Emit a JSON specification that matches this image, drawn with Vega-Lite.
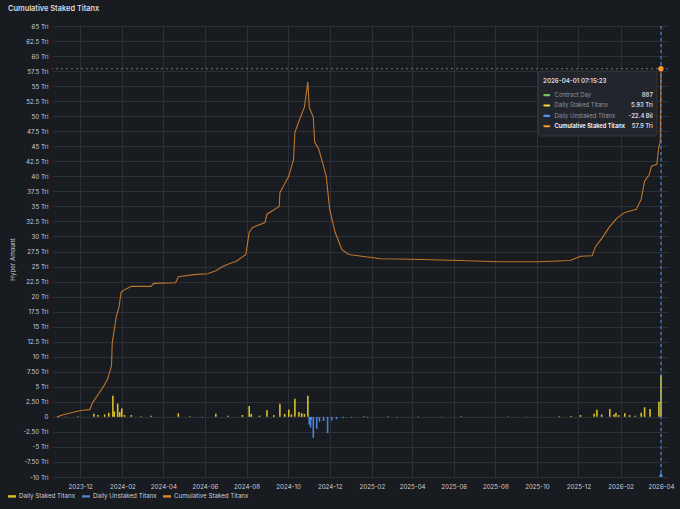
{
  "$schema": "https://vega.github.io/schema/vega-lite/v6.json",
  "description": "Cumulative Staked Titanx, Grafana-style dark time series.",
  "autosize": {"type": "none"},
  "padding": {"left": 52, "top": 26, "right": 12, "bottom": 32},
  "width": 616,
  "height": 451,
  "background": "#181b1f",
  "title": {
    "text": "Cumulative Staked Titanx",
    "anchor": "start",
    "frame": "group",
    "dx": -44,
    "offset": 11,
    "fontSize": 7.4,
    "fontWeight": 600,
    "color": "#d8d9e0"
  },
  "datasets": {
    "cum": [
      {"date": "2023-10-28", "series": "Cumulative Staked Titanx", "value": 0.0},
      {"date": "2023-11-05", "series": "Cumulative Staked Titanx", "value": 0.3},
      {"date": "2023-11-15", "series": "Cumulative Staked Titanx", "value": 0.6},
      {"date": "2023-11-25", "series": "Cumulative Staked Titanx", "value": 0.9},
      {"date": "2023-12-05", "series": "Cumulative Staked Titanx", "value": 1.1},
      {"date": "2023-12-15", "series": "Cumulative Staked Titanx", "value": 1.2},
      {"date": "2023-12-19", "series": "Cumulative Staked Titanx", "value": 2.3},
      {"date": "2023-12-23", "series": "Cumulative Staked Titanx", "value": 3.0},
      {"date": "2024-01-04", "series": "Cumulative Staked Titanx", "value": 5.0},
      {"date": "2024-01-10", "series": "Cumulative Staked Titanx", "value": 6.2},
      {"date": "2024-01-16", "series": "Cumulative Staked Titanx", "value": 8.5},
      {"date": "2024-01-17", "series": "Cumulative Staked Titanx", "value": 12.3},
      {"date": "2024-01-23", "series": "Cumulative Staked Titanx", "value": 16.7},
      {"date": "2024-01-27", "series": "Cumulative Staked Titanx", "value": 18.3},
      {"date": "2024-01-30", "series": "Cumulative Staked Titanx", "value": 20.7},
      {"date": "2024-02-05", "series": "Cumulative Staked Titanx", "value": 21.2},
      {"date": "2024-02-14", "series": "Cumulative Staked Titanx", "value": 21.7},
      {"date": "2024-03-14", "series": "Cumulative Staked Titanx", "value": 21.7},
      {"date": "2024-03-18", "series": "Cumulative Staked Titanx", "value": 22.2},
      {"date": "2024-04-19", "series": "Cumulative Staked Titanx", "value": 22.3},
      {"date": "2024-04-23", "series": "Cumulative Staked Titanx", "value": 23.3},
      {"date": "2024-05-19", "series": "Cumulative Staked Titanx", "value": 23.7},
      {"date": "2024-06-05", "series": "Cumulative Staked Titanx", "value": 23.8},
      {"date": "2024-06-17", "series": "Cumulative Staked Titanx", "value": 24.3},
      {"date": "2024-06-27", "series": "Cumulative Staked Titanx", "value": 25.0},
      {"date": "2024-07-12", "series": "Cumulative Staked Titanx", "value": 25.7},
      {"date": "2024-07-16", "series": "Cumulative Staked Titanx", "value": 25.8},
      {"date": "2024-07-31", "series": "Cumulative Staked Titanx", "value": 27.0},
      {"date": "2024-08-05", "series": "Cumulative Staked Titanx", "value": 30.7},
      {"date": "2024-08-10", "series": "Cumulative Staked Titanx", "value": 31.5},
      {"date": "2024-08-28", "series": "Cumulative Staked Titanx", "value": 32.3},
      {"date": "2024-08-31", "series": "Cumulative Staked Titanx", "value": 33.7},
      {"date": "2024-09-18", "series": "Cumulative Staked Titanx", "value": 35.0},
      {"date": "2024-09-19", "series": "Cumulative Staked Titanx", "value": 37.3},
      {"date": "2024-10-02", "series": "Cumulative Staked Titanx", "value": 40.0},
      {"date": "2024-10-09", "series": "Cumulative Staked Titanx", "value": 42.8},
      {"date": "2024-10-11", "series": "Cumulative Staked Titanx", "value": 47.3},
      {"date": "2024-10-18", "series": "Cumulative Staked Titanx", "value": 49.5},
      {"date": "2024-10-25", "series": "Cumulative Staked Titanx", "value": 51.5},
      {"date": "2024-10-30", "series": "Cumulative Staked Titanx", "value": 55.7},
      {"date": "2024-11-01", "series": "Cumulative Staked Titanx", "value": 51.5},
      {"date": "2024-11-07", "series": "Cumulative Staked Titanx", "value": 49.8},
      {"date": "2024-11-09", "series": "Cumulative Staked Titanx", "value": 45.7},
      {"date": "2024-11-15", "series": "Cumulative Staked Titanx", "value": 44.5},
      {"date": "2024-11-22", "series": "Cumulative Staked Titanx", "value": 41.7},
      {"date": "2024-11-26", "series": "Cumulative Staked Titanx", "value": 40.0},
      {"date": "2024-12-01", "series": "Cumulative Staked Titanx", "value": 34.5},
      {"date": "2024-12-09", "series": "Cumulative Staked Titanx", "value": 30.7},
      {"date": "2024-12-19", "series": "Cumulative Staked Titanx", "value": 27.8},
      {"date": "2024-12-29", "series": "Cumulative Staked Titanx", "value": 27.0},
      {"date": "2025-01-17", "series": "Cumulative Staked Titanx", "value": 26.7},
      {"date": "2025-02-14", "series": "Cumulative Staked Titanx", "value": 26.3},
      {"date": "2025-04-01", "series": "Cumulative Staked Titanx", "value": 26.2},
      {"date": "2025-06-09", "series": "Cumulative Staked Titanx", "value": 26.0},
      {"date": "2025-08-06", "series": "Cumulative Staked Titanx", "value": 25.8},
      {"date": "2025-10-03", "series": "Cumulative Staked Titanx", "value": 25.8},
      {"date": "2025-11-19", "series": "Cumulative Staked Titanx", "value": 26.0},
      {"date": "2025-12-04", "series": "Cumulative Staked Titanx", "value": 26.7},
      {"date": "2025-12-21", "series": "Cumulative Staked Titanx", "value": 26.8},
      {"date": "2025-12-26", "series": "Cumulative Staked Titanx", "value": 28.3},
      {"date": "2026-01-05", "series": "Cumulative Staked Titanx", "value": 29.8},
      {"date": "2026-01-15", "series": "Cumulative Staked Titanx", "value": 31.5},
      {"date": "2026-01-26", "series": "Cumulative Staked Titanx", "value": 33.0},
      {"date": "2026-02-07", "series": "Cumulative Staked Titanx", "value": 34.0},
      {"date": "2026-02-24", "series": "Cumulative Staked Titanx", "value": 34.5},
      {"date": "2026-03-03", "series": "Cumulative Staked Titanx", "value": 36.2},
      {"date": "2026-03-08", "series": "Cumulative Staked Titanx", "value": 39.2},
      {"date": "2026-03-15", "series": "Cumulative Staked Titanx", "value": 40.3},
      {"date": "2026-03-18", "series": "Cumulative Staked Titanx", "value": 41.7},
      {"date": "2026-03-26", "series": "Cumulative Staked Titanx", "value": 42.0},
      {"date": "2026-03-29", "series": "Cumulative Staked Titanx", "value": 45.0},
      {"date": "2026-03-31", "series": "Cumulative Staked Titanx", "value": 45.7},
      {"date": "2026-04-01", "series": "Cumulative Staked Titanx", "value": 57.9}
    ],
    "daily": [
      {"date": "2023-11-10", "series": "Daily Staked Titanx", "value": 0.08},
      {"date": "2023-11-28", "series": "Daily Staked Titanx", "value": 0.1},
      {"date": "2023-12-21", "series": "Daily Staked Titanx", "value": 0.5},
      {"date": "2023-12-27", "series": "Daily Staked Titanx", "value": 0.3},
      {"date": "2024-01-06", "series": "Daily Staked Titanx", "value": 0.4},
      {"date": "2024-01-12", "series": "Daily Staked Titanx", "value": 0.7},
      {"date": "2024-01-18", "series": "Daily Staked Titanx", "value": 3.5},
      {"date": "2024-01-20", "series": "Daily Staked Titanx", "value": 0.9},
      {"date": "2024-01-25", "series": "Daily Staked Titanx", "value": 2.2},
      {"date": "2024-01-28", "series": "Daily Staked Titanx", "value": 0.8},
      {"date": "2024-01-31", "series": "Daily Staked Titanx", "value": 1.4},
      {"date": "2024-02-04", "series": "Daily Staked Titanx", "value": 0.3},
      {"date": "2024-02-14", "series": "Daily Staked Titanx", "value": 0.3},
      {"date": "2024-02-28", "series": "Daily Staked Titanx", "value": 0.1},
      {"date": "2024-03-14", "series": "Daily Staked Titanx", "value": 0.2},
      {"date": "2024-04-23", "series": "Daily Staked Titanx", "value": 0.6},
      {"date": "2024-05-10", "series": "Daily Staked Titanx", "value": 0.1},
      {"date": "2024-06-17", "series": "Daily Staked Titanx", "value": 0.5},
      {"date": "2024-07-05", "series": "Daily Staked Titanx", "value": 0.2},
      {"date": "2024-07-26", "series": "Daily Staked Titanx", "value": 0.3},
      {"date": "2024-08-05", "series": "Daily Staked Titanx", "value": 1.8},
      {"date": "2024-08-08", "series": "Daily Staked Titanx", "value": 0.5},
      {"date": "2024-08-20", "series": "Daily Staked Titanx", "value": 0.2},
      {"date": "2024-08-31", "series": "Daily Staked Titanx", "value": 1.1},
      {"date": "2024-09-10", "series": "Daily Staked Titanx", "value": 0.3},
      {"date": "2024-09-19", "series": "Daily Staked Titanx", "value": 2.2},
      {"date": "2024-09-26", "series": "Daily Staked Titanx", "value": 0.5},
      {"date": "2024-10-02", "series": "Daily Staked Titanx", "value": 1.2},
      {"date": "2024-10-06", "series": "Daily Staked Titanx", "value": 0.4},
      {"date": "2024-10-11", "series": "Daily Staked Titanx", "value": 3.0},
      {"date": "2024-10-17", "series": "Daily Staked Titanx", "value": 0.8},
      {"date": "2024-10-21", "series": "Daily Staked Titanx", "value": 0.6},
      {"date": "2024-10-25", "series": "Daily Staked Titanx", "value": 0.5},
      {"date": "2024-10-30", "series": "Daily Staked Titanx", "value": 3.5},
      {"date": "2025-01-20", "series": "Daily Staked Titanx", "value": 0.08},
      {"date": "2025-02-25", "series": "Daily Staked Titanx", "value": 0.08},
      {"date": "2025-04-10", "series": "Daily Staked Titanx", "value": 0.06},
      {"date": "2025-05-15", "series": "Daily Staked Titanx", "value": 0.06},
      {"date": "2025-06-12", "series": "Daily Staked Titanx", "value": 0.08},
      {"date": "2025-08-20", "series": "Daily Staked Titanx", "value": 0.06},
      {"date": "2025-09-15", "series": "Daily Staked Titanx", "value": 0.08},
      {"date": "2025-11-03", "series": "Daily Staked Titanx", "value": 0.1},
      {"date": "2025-11-20", "series": "Daily Staked Titanx", "value": 0.15},
      {"date": "2025-12-04", "series": "Daily Staked Titanx", "value": 0.3},
      {"date": "2025-12-24", "series": "Daily Staked Titanx", "value": 0.5},
      {"date": "2025-12-28", "series": "Daily Staked Titanx", "value": 1.2},
      {"date": "2026-01-04", "series": "Daily Staked Titanx", "value": 0.4},
      {"date": "2026-01-16", "series": "Daily Staked Titanx", "value": 1.3},
      {"date": "2026-01-22", "series": "Daily Staked Titanx", "value": 0.4},
      {"date": "2026-01-25", "series": "Daily Staked Titanx", "value": 0.7},
      {"date": "2026-01-29", "series": "Daily Staked Titanx", "value": 0.3},
      {"date": "2026-02-07", "series": "Daily Staked Titanx", "value": 0.6},
      {"date": "2026-02-14", "series": "Daily Staked Titanx", "value": 0.3},
      {"date": "2026-02-22", "series": "Daily Staked Titanx", "value": 0.2},
      {"date": "2026-03-03", "series": "Daily Staked Titanx", "value": 0.7},
      {"date": "2026-03-08", "series": "Daily Staked Titanx", "value": 1.6},
      {"date": "2026-03-16", "series": "Daily Staked Titanx", "value": 1.3},
      {"date": "2026-03-29", "series": "Daily Staked Titanx", "value": 2.5},
      {"date": "2026-04-01", "series": "Daily Staked Titanx", "value": 6.9},
      {"date": "2024-02-20", "series": "Daily Unstaked Titanx", "value": -0.05},
      {"date": "2024-05-28", "series": "Daily Unstaked Titanx", "value": -0.1},
      {"date": "2024-11-01", "series": "Daily Unstaked Titanx", "value": -1.3},
      {"date": "2024-11-03", "series": "Daily Unstaked Titanx", "value": -1.8},
      {"date": "2024-11-04", "series": "Daily Unstaked Titanx", "value": -0.5},
      {"date": "2024-11-07", "series": "Daily Unstaked Titanx", "value": -3.5},
      {"date": "2024-11-12", "series": "Daily Unstaked Titanx", "value": -2.0},
      {"date": "2024-11-16", "series": "Daily Unstaked Titanx", "value": -0.8},
      {"date": "2024-11-22", "series": "Daily Unstaked Titanx", "value": -0.7},
      {"date": "2024-11-28", "series": "Daily Unstaked Titanx", "value": -2.7},
      {"date": "2024-12-04", "series": "Daily Unstaked Titanx", "value": -0.6},
      {"date": "2024-12-11", "series": "Daily Unstaked Titanx", "value": -0.4},
      {"date": "2024-12-21", "series": "Daily Unstaked Titanx", "value": -0.2},
      {"date": "2025-01-02", "series": "Daily Unstaked Titanx", "value": -0.15},
      {"date": "2025-01-25", "series": "Daily Unstaked Titanx", "value": -0.1},
      {"date": "2025-03-10", "series": "Daily Unstaked Titanx", "value": -0.06},
      {"date": "2026-04-01", "series": "Daily Unstaked Titanx", "value": -0.0224}
    ],
    "tip": [
      {"label": "Contract Day", "val": "887", "c": "#73bf69", "row": 53.5, "hi": false},
      {"label": "Daily Staked Titanx", "val": "5.93 Tri", "c": "#fade2a", "row": 51.78, "hi": false},
      {"label": "Daily Unstaked Titanx", "val": "-22.4 Bil", "c": "#5794f2", "row": 50.05, "hi": false},
      {"label": "Cumulative Staked Titanx", "val": "57.9 Tri", "c": "#ff9830", "row": 48.33, "hi": true}
    ],
    "hover": [
      {"date": "2026-04-01", "value": 57.9}
    ]
  },
  "encoding": {
    "x": {
      "type": "temporal",
      "title": null,
      "scale": {
        "type": "utc",
        "domain": [
          {"year": 2023, "month": 10, "date": 28, "utc": true},
          {"year": 2026, "month": 4, "date": 4, "utc": true}
        ]
      },
      "axis": {
        "labelExpr": "utcFormat(datum.value, '%Y-%m')",
        "values": [
          {"year": 2023, "month": 12, "date": 1, "utc": true},
          {"year": 2024, "month": 2, "date": 1, "utc": true},
          {"year": 2024, "month": 4, "date": 1, "utc": true},
          {"year": 2024, "month": 6, "date": 1, "utc": true},
          {"year": 2024, "month": 8, "date": 1, "utc": true},
          {"year": 2024, "month": 10, "date": 1, "utc": true},
          {"year": 2024, "month": 12, "date": 1, "utc": true},
          {"year": 2025, "month": 2, "date": 1, "utc": true},
          {"year": 2025, "month": 4, "date": 1, "utc": true},
          {"year": 2025, "month": 6, "date": 1, "utc": true},
          {"year": 2025, "month": 8, "date": 1, "utc": true},
          {"year": 2025, "month": 10, "date": 1, "utc": true},
          {"year": 2025, "month": 12, "date": 1, "utc": true},
          {"year": 2026, "month": 2, "date": 1, "utc": true},
          {"year": 2026, "month": 4, "date": 1, "utc": true}
        ],
        "labelOverlap": false,
        "labelFlush": false,
        "labelPadding": 6
      }
    },
    "y": {
      "type": "quantitative",
      "title": "Hyper Amount",
      "scale": {"domain": [-10, 65], "nice": false, "zero": false},
      "axis": {
        "values": [-10, -7.5, -5, -2.5, 0, 2.5, 5, 7.5, 10, 12.5, 15, 17.5, 20, 22.5, 25, 27.5, 30, 32.5, 35, 37.5, 40, 42.5, 45, 47.5, 50, 52.5, 55, 57.5, 60, 62.5, 65],
        "labelExpr": "datum.value == 0 ? '0' : replace(datum.value % 1 != 0 ? format(datum.value, '.3r') : format(datum.value, 'd'), '\u2212', '-') + ' Tri'",
        "labelOverlap": false,
        "labelFlush": false,
        "titleX": -37,
        "titleY": 233
      }
    }
  },
  "layer": [
    {
      "data": {"name": "daily"},
      "mark": {"type": "bar", "width": 1.6, "opacity": 0.85},
      "encoding": {
        "x": {"field": "date"},
        "y": {"field": "value"},
        "color": {
          "field": "series",
          "type": "nominal",
          "scale": {
            "domain": ["Daily Staked Titanx", "Daily Unstaked Titanx", "Cumulative Staked Titanx"],
            "range": ["#fade2a", "#5794f2", "#ff9830"]
          },
          "legend": {
            "orient": "none",
            "direction": "horizontal",
            "legendX": -44,
            "legendY": 466,
            "title": null,
            "symbolType": "M-1,-0.3H1V0.3H-1Z",
            "symbolSize": 64,
            "symbolStrokeWidth": 0,
            "labelFontSize": 6.2,
            "labelColor": "#ccccdc",
            "columnPadding": 6,
            "labelOffset": 3,
            "encode": {
              "symbols": {
                "update": {
                  "fill": {"scale": "color", "field": "value"},
                  "opacity": {"value": 1}
                }
              }
            }
          }
        }
      }
    },
    {
      "data": {"name": "cum"},
      "mark": {"type": "line", "strokeWidth": 1.1, "interpolate": "linear", "opacity": 0.72},
      "encoding": {
        "x": {"field": "date"},
        "y": {"field": "value"},
        "color": {"field": "series", "type": "nominal"}
      }
    },
    {
      "data": {"name": "hover"},
      "mark": {"type": "rule", "color": "#5794f2", "strokeDash": [3, 3], "strokeWidth": 1},
      "encoding": {
        "x": {"field": "date"}
      }
    },
    {
      "data": {"name": "hover"},
      "mark": {"type": "rule", "color": "#6e7079", "strokeDash": [2, 3], "strokeWidth": 1},
      "encoding": {
        "y": {"field": "value"}
      }
    },
    {
      "data": {"name": "hover"},
      "mark": {"type": "point", "filled": true, "color": "#ff9830", "size": 28, "opacity": 1},
      "encoding": {
        "x": {"field": "date"},
        "y": {"field": "value"}
      }
    },
    {
      "data": {"name": "hover"},
      "mark": {"type": "point", "shape": "triangle-up", "filled": true, "color": "#5794f2", "size": 18, "opacity": 1},
      "encoding": {
        "x": {"field": "date"},
        "y": {"datum": -9.6}
      }
    },
    {
      "data": {"values": [{}]},
      "mark": {"type": "rect", "fill": "#22252b", "stroke": "#34373c", "strokeWidth": 1, "cornerRadius": 2},
      "encoding": {
        "x": {"datum": {"year": 2025, "month": 10, "date": 3, "utc": true}},
        "x2": {"datum": {"year": 2026, "month": 3, "date": 26, "utc": true}},
        "y": {"datum": 57.5},
        "y2": {"datum": 46.7}
      }
    },
    {
      "data": {"values": [{"t": "2026-04-01 07:15:23"}]},
      "mark": {"type": "text", "align": "left", "baseline": "middle", "fontSize": 6.2, "fontWeight": 600, "color": "#d8d9e0"},
      "encoding": {
        "x": {"datum": {"year": 2025, "month": 10, "date": 10, "utc": true}},
        "y": {"datum": 55.9},
        "text": {"field": "t"}
      }
    },
    {
      "data": {"name": "tip"},
      "mark": {"type": "rule", "strokeWidth": 2.2, "strokeCap": "round"},
      "encoding": {
        "x": {"datum": {"year": 2025, "month": 10, "date": 12, "utc": true}},
        "x2": {"datum": {"year": 2025, "month": 10, "date": 19, "utc": true}},
        "y": {"field": "row"},
        "color": {"field": "c", "type": "nominal", "scale": null, "legend": null}
      }
    },
    {
      "data": {"name": "tip"},
      "transform": [{"filter": "!datum.hi"}],
      "mark": {"type": "text", "align": "left", "baseline": "middle", "fontSize": 5.9, "color": "#8e939c"},
      "encoding": {
        "x": {"datum": {"year": 2025, "month": 10, "date": 27, "utc": true}},
        "y": {"field": "row"},
        "text": {"field": "label"}
      }
    },
    {
      "data": {"name": "tip"},
      "transform": [{"filter": "datum.hi"}],
      "mark": {"type": "text", "align": "left", "baseline": "middle", "fontSize": 5.7, "fontWeight": 600, "color": "#ffffff"},
      "encoding": {
        "x": {"datum": {"year": 2025, "month": 10, "date": 27, "utc": true}},
        "y": {"field": "row"},
        "text": {"field": "label"}
      }
    },
    {
      "data": {"name": "tip"},
      "mark": {"type": "text", "align": "right", "baseline": "middle", "fontSize": 5.9, "fontWeight": 600, "color": "#d8d9e0"},
      "encoding": {
        "x": {"datum": {"year": 2026, "month": 3, "date": 20, "utc": true}},
        "y": {"field": "row"},
        "text": {"field": "val"}
      }
    }
  ],
  "config": {
    "font": "Inter",
    "view": {"stroke": null},
    "axis": {
      "domain": false,
      "ticks": false,
      "grid": true,
      "gridColor": "#2c2f35",
      "gridWidth": 1,
      "labelColor": "#ccccdc",
      "labelFontSize": 6.2,
      "labelPadding": 4,
      "titleColor": "#ccccdc",
      "titleFontSize": 6.2,
      "titleFontWeight": "normal"
    },
    "legend": {"labelFont": "Inter"}
  }
}
